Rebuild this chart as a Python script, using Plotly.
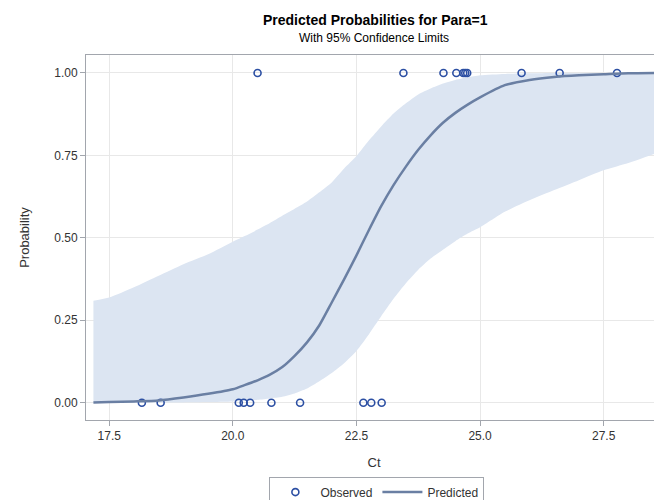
import plotly.graph_objects as go

# Observed outcomes
obs_ct = [18.16, 18.54, 20.12, 20.22, 20.35, 20.78, 21.36, 22.64, 22.80, 23.01,
          20.50, 23.45, 24.26, 24.52, 24.66, 24.70, 24.74, 25.84, 26.61, 27.77]
obs_p = [0, 0, 0, 0, 0, 0, 0, 0, 0, 0,
         1, 1, 1, 1, 1, 1, 1, 1, 1, 1]

# Predicted curve and 95% confidence limits
grid_ct = [17.18, 17.5, 18.0, 18.5, 19.0, 19.5, 20.0, 20.25, 20.5, 20.75, 21.0, 21.25,
           21.5, 21.75, 22.0, 22.25, 22.5, 22.75, 23.0, 23.25, 23.5, 23.75, 24.0, 24.25,
           24.5, 24.75, 25.0, 25.5, 26.0, 26.5, 27.0, 27.5, 28.0, 28.7]
pred = [0.001, 0.002, 0.004, 0.007, 0.016, 0.027, 0.041, 0.054, 0.068, 0.085, 0.108, 0.142,
        0.183, 0.235, 0.304, 0.374, 0.447, 0.523, 0.596, 0.660, 0.716, 0.767, 0.811, 0.849,
        0.879, 0.904, 0.926, 0.963, 0.979, 0.988, 0.993, 0.996, 0.999, 1.0]
upper = [0.309, 0.319, 0.35, 0.385, 0.42, 0.45, 0.488, 0.506, 0.525, 0.545, 0.567, 0.588,
         0.61, 0.638, 0.668, 0.71, 0.748, 0.795, 0.838, 0.877, 0.908, 0.935, 0.953, 0.968,
         0.979, 0.987, 0.993, 0.997, 0.999, 1.0, 1.0, 1.0, 1.0, 1.0]
lower = [0.0, 0.0, 0.0, 0.001, 0.001, 0.002, 0.004, 0.006, 0.009, 0.013, 0.018, 0.028,
         0.043, 0.065, 0.09, 0.12, 0.157, 0.207, 0.262, 0.315, 0.362, 0.403, 0.437, 0.464,
         0.49, 0.513, 0.532, 0.579, 0.614, 0.645, 0.675, 0.705, 0.727, 0.764]

x_ticks = [17.5, 20.0, 22.5, 25.0, 27.5]
y_ticks = [0.0, 0.25, 0.5, 0.75, 1.0]

FONT = "Arial, Liberation Sans, sans-serif"

fig = go.Figure()
fig.add_trace(go.Scatter(x=grid_ct, y=lower, mode="lines",
                         line=dict(width=0, shape="spline", smoothing=0.6),
                         showlegend=False, hoverinfo="skip"))
fig.add_trace(go.Scatter(x=grid_ct, y=upper, mode="lines",
                         line=dict(width=0, shape="spline", smoothing=0.6),
                         fill="tonexty", fillcolor="#dce5f2", showlegend=False,
                         hoverinfo="skip"))
fig.add_trace(go.Scatter(x=obs_ct, y=obs_p, mode="markers", name="Observed", legendrank=1,
                         marker=dict(symbol="circle-open", size=7, color="#2c4fa3",
                                     line=dict(width=1.6, color="#2c4fa3"))))
fig.add_trace(go.Scatter(x=grid_ct, y=pred, mode="lines", name="Predicted", legendrank=2,
                         line=dict(color="#6a7fa3", width=2.5, shape="spline", smoothing=0.6)))

axis_common = dict(showline=True, linecolor="#a2a6ad", linewidth=1, mirror=True,
                   showgrid=True, gridcolor="#e8e8e8", gridwidth=1,
                   ticks="outside", ticklen=5, tickcolor="#a2a6ad",
                   tickfont=dict(family=FONT, size=12, color="#333333"),
                   zeroline=False, automargin=False)

fig.update_layout(
    width=654, height=492,
    margin=dict(l=78, r=0, t=47, b=80, autoexpand=False),
    plot_bgcolor="white", paper_bgcolor="white",
    font=dict(family=FONT, color="#333333"),
    xaxis=dict(range=[17.03, 28.68], tickvals=x_ticks, tickformat=".1f",
               title=dict(text="Ct", font=dict(family=FONT, size=13, color="#333333"),
                          standoff=15),
               **axis_common),
    yaxis=dict(range=[-0.0524, 1.0545], tickvals=y_ticks, tickformat=".2f",
               title=dict(text="Probability", font=dict(family=FONT, size=13, color="#333333"),
                          standoff=21),
               **axis_common),
    legend=dict(orientation="h", x=0.505, xanchor="center", y=-0.155, yanchor="top",
                bordercolor="#a2a6ad", borderwidth=1,
                font=dict(family=FONT, size=12, color="#333333"),
                itemwidth=40, tracegroupgap=0, traceorder="normal"),
    annotations=[
        dict(text="<b>Predicted Probabilities for Para=1</b>", xref="paper", yref="paper",
             x=0.503, y=1.0, yshift=35, xanchor="center", yanchor="middle", showarrow=False,
             font=dict(family=FONT, size=14, color="#000000")),
        dict(text="With 95% Confidence Limits", xref="paper", yref="paper",
             x=0.5, y=1.0, yshift=17, xanchor="center", yanchor="middle", showarrow=False,
             font=dict(family=FONT, size=12, color="#000000")),
    ],
)

fig.write_html("out.html")
